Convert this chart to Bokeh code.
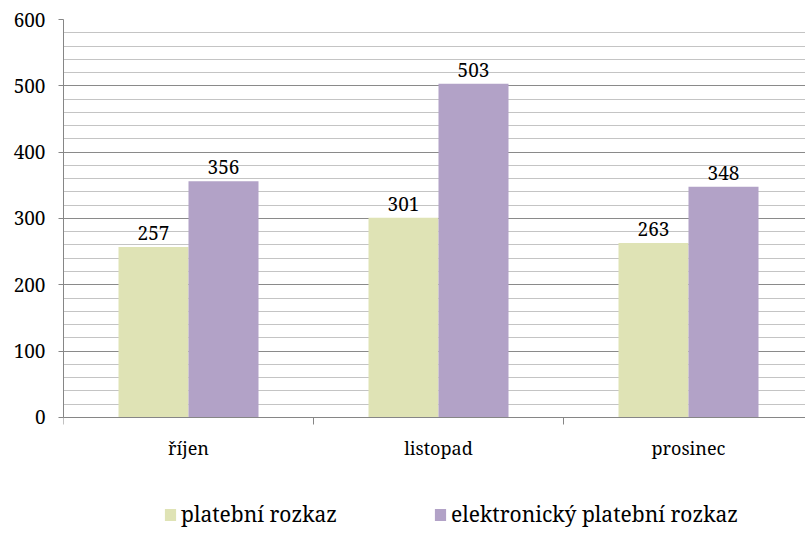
from bokeh.plotting import figure
from bokeh.models import (ColumnDataSource, FixedTicker, SingleIntervalTicker, Legend, LegendItem, Range1d)
from bokeh.core.properties import value
from bokeh.embed import file_html
from bokeh.resources import INLINE

categories = ["říjen", "listopad", "prosinec"]
series_names = ["platební rozkaz", "elektronický platební rozkaz"]
platebni = [257, 301, 263]
elektronicky = [356, 503, 348]
colors = ["#DFE3B5", "#B2A2C7"]
y_ticks_max = 600

FONT = "Noto Serif"

# the frame reaches the bottom of the page so that the legend below the axis is not clipped
p = figure(width=805, height=533, output_backend="svg", toolbar_location=None,
           x_range=Range1d(-0.5, 2.468), y_range=Range1d(-175, y_ticks_max),
           min_border_left=63, min_border_top=19, min_border_bottom=0, min_border_right=0)
p.outline_line_color = None
p.background_fill_color = "white"
p.border_fill_color = "white"

xs = list(range(len(categories)))
off = 0.14
w = 0.28
src1 = ColumnDataSource(dict(x=[x - off for x in xs], top=platebni, lab=[str(v) for v in platebni]))
src2 = ColumnDataSource(dict(x=[x + off for x in xs], top=elektronicky, lab=[str(v) for v in elektronicky]))

r1 = p.vbar(x="x", top="top", bottom=0, width=w, source=src1, fill_color=colors[0], line_color=None)
r2 = p.vbar(x="x", top="top", bottom=0, width=w, source=src2, fill_color=colors[1], line_color=None)

for src in (src1, src2):
    p.text(x="x", y="top", text="lab", source=src, text_align="center", text_baseline="alphabetic",
           y_offset=-14, text_font=value(FONT), text_font_size="19px", text_color="#000000")

# axes
p.xgrid.visible = False
p.yaxis.ticker = SingleIntervalTicker(interval=100, num_minor_ticks=5)
p.ygrid.ticker = p.yaxis.ticker
p.ygrid.bounds = (0, y_ticks_max)
p.yaxis.bounds = (0, y_ticks_max)
p.ygrid.grid_line_color = "#8a8a8a"
p.ygrid.minor_grid_line_color = "#c4c4c4"
p.ygrid.level = "underlay"

p.yaxis.axis_line_color = "#868686"
p.yaxis.major_tick_line_color = "#868686"
p.yaxis.major_tick_out = 5
p.yaxis.major_tick_in = 0
p.yaxis.minor_tick_line_color = None
p.yaxis.major_label_text_font = FONT
p.yaxis.major_label_text_font_size = "19px"
p.yaxis.major_label_text_color = "#000000"
p.yaxis.major_label_standoff = 13

p.xaxis.fixed_location = 0
p.xaxis.ticker = FixedTicker(ticks=xs, minor_ticks=[-0.5, 0.5, 1.5, 2.5])
p.xaxis.major_label_overrides = {i: c for i, c in enumerate(categories)}
p.xaxis.major_tick_line_color = None
p.xaxis.major_tick_out = 0
p.xaxis.major_tick_in = 0
p.xaxis.minor_tick_line_color = "#868686"
p.xaxis.minor_tick_out = 7
p.xaxis.minor_tick_in = 0
p.xaxis.axis_line_color = "#868686"
p.xaxis.major_label_text_font = FONT
p.xaxis.major_label_text_font_size = "18px"
p.xaxis.major_label_text_color = "#000000"
p.xaxis.major_label_standoff = 12

legend = Legend(items=[LegendItem(label=series_names[0], renderers=[r1]),
                       LegendItem(label=series_names[1], renderers=[r2])],
                orientation="horizontal", location=(100, 5),
                label_text_font=FONT, label_text_font_size="21px", label_text_color="#000000",
                glyph_width=14, glyph_height=15, label_standoff=4, spacing=96,
                padding=0, margin=0, border_line_color=None, background_fill_alpha=0)
p.add_layout(legend)

open("out.html", "w").write(file_html(p, INLINE))
